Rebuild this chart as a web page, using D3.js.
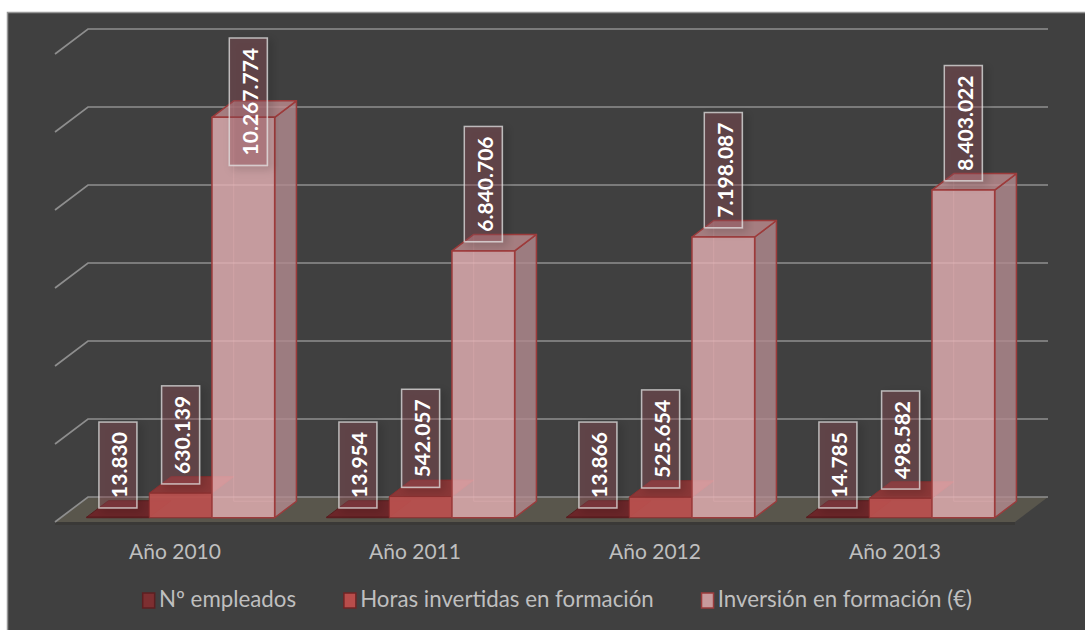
<!DOCTYPE html>
<html>
<head>
<meta charset="utf-8">
<script src="https://cdn.jsdelivr.net/npm/d3@7"></script>
<style>
  body { margin: 0; background: #fff; }
  svg { display: block; }
  text { font-family: Lato, "Open Sans", sans-serif; }
</style>
</head>
<body>
<div id="chart"></div>
<script>
//data
const categories = ["Año 2010", "Año 2011", "Año 2012", "Año 2013"];
const seriesNames = ["Nº empleados", "Horas invertidas en formación", "Inversión en formación (€)"];
const empleados = [13830, 13954, 13866, 14785];
const horas = [630139, 542057, 525654, 498582];
const inversion = [10267774, 6840706, 7198087, 8403022];
const yTicks = [0, 2000000, 4000000, 6000000, 8000000, 10000000, 12000000];

const seriesValues = [empleados, horas, inversion];

const width = 1085;
const height = 630;

// 3d look: depth offset of the floor and where the bars sit inside it
const depthX = 33, depthY = 25;
const floorFront = 522;
const zFront = 0.17, zBack = 0.83;
const labelTop = 38;

const styles = [
  { front: "#7a2c2e", side: "#5c2123", top: "#6c2629", stroke: "#5a1e20", opacity: 1, legendFill: "#7d2f31", legendStroke: "#5c1f21" },
  { front: "#b9504e", side: "#7e2f2f", top: "#8e3737", stroke: "#8a2f2f", opacity: 0.95, legendFill: "#b84d4b", legendStroke: "#6e2525" },
  { front: "#e6b2b5", side: "#b38b90", top: "#be8c90", stroke: "#9c3b3b", opacity: 0.8, legendFill: "#c89a9c", legendStroke: "#9b3b3b" }
];

const es = d3.formatLocale({ decimal: ",", thousands: ".", grouping: [3], currency: ["", "€"] });
const fmt = es.format(",d");

const svg = d3.select("#chart")
  .append("svg")
  .attr("width", width)
  .attr("height", height);

// background + border
svg.append("rect")
  .attr("x", 7.5).attr("y", 12.5)
  .attr("width", width).attr("height", height)
  .attr("fill", "#404040")
  .attr("stroke", "#979797")
  .attr("stroke-width", 1.5);

const x = d3.scaleBand()
  .domain(categories)
  .range([55, 1015]);

const xs = d3.scaleBand()
  .domain(seriesNames)
  .range([0, x.bandwidth()])
  .paddingOuter(0.414);

const y = d3.scaleLinear()
  .domain([0, 12000000])
  .range([0, 468]);

// project (floor x, value, depth) to the screen
var P = (X, v, z) => [X + z * depthX, floorFront - z * depthY - y(v)];
var poly = pts => pts.map(p => p.join(",")).join(" ");

const defs = svg.append("defs");
defs.append("filter")
  .attr("id", "shadow")
  .attr("x", "-30%").attr("y", "-10%").attr("width", "160%").attr("height", "130%")
  .append("feDropShadow")
  .attr("dx", 4).attr("dy", 3).attr("stdDeviation", 4)
  .attr("flood-color", "#000").attr("flood-opacity", 0.35);

// floor
const x0 = x.range()[0], x1 = x.range()[1];
svg.append("polygon")
  .attr("points", poly([P(x0, 0, 0), [P(x0, 0, 0)[0], floorFront + 3], [P(x1, 0, 0)[0], floorFront + 3], P(x1, 0, 0)]))
  .attr("fill", "#3a3937");
svg.append("polygon")
  .attr("points", poly([P(x0, 0, 0), P(x1, 0, 0), P(x1, 0, 1), P(x0, 0, 1)]))
  .attr("fill", "#59564c");

// gridlines: side wall + back wall
svg.append("g")
  .selectAll("polyline")
  .data(yTicks)
  .join("polyline")
  .attr("points", t => poly([P(x0, t, 0), P(x0, t, 1), P(x1, t, 1)]))
  .attr("fill", "none")
  .attr("stroke", "#8e8e8e")
  .attr("stroke-width", 1.7);

// bars
var bars = [];
categories.forEach((c, i) => {
  seriesNames.forEach((s, k) => {
    bars.push({ cat: c, series: s, k: k, value: seriesValues[k][i] });
  });
});

const barG = svg.append("g");
bars.forEach(d => {
  const st = styles[d.k];
  const X0 = x(d.cat) + xs(d.series);
  const X1 = X0 + xs.bandwidth();
  const v = d.value;
  const g = barG.append("g")
    .attr("stroke", st.stroke)
    .attr("stroke-width", d.k == 2 ? 1.5 : 1)
    .attr("stroke-linejoin", "round");

  // hidden back edges show through the see-through bars
  if (d.k == 2) {
    g.append("polyline")
      .attr("points", poly([P(X0, v, zBack), P(X0, 0, zBack), P(X1, 0, zBack)]))
      .attr("fill", "none")
      .attr("stroke", "rgba(235,185,188,0.35)")
      .attr("stroke-width", 1);
  }
  // side face of the small bars is mostly hidden by the next bar
  if (d.k == 2) {
    g.append("polygon")
      .attr("points", poly([P(X1, 0, zFront), P(X1, 0, zBack), P(X1, v, zBack), P(X1, v, zFront)]))
      .attr("fill", st.side).attr("fill-opacity", st.opacity);
  }
  g.append("polygon")
    .attr("points", poly([P(X0, v, zFront), P(X1, v, zFront), P(X1, v, zBack), P(X0, v, zBack)]))
    .attr("fill", st.top).attr("fill-opacity", st.opacity);
  g.append("polygon")
    .attr("points", poly([P(X0, 0, zFront), P(X1, 0, zFront), P(X1, v, zFront), P(X0, v, zFront)]))
    .attr("fill", st.front).attr("fill-opacity", st.opacity);
});

// data labels (rotated, boxed)
const labelG = svg.append("g");
bars.forEach(d => {
  const X0 = x(d.cat) + xs(d.series);
  const cx = X0 + xs.bandwidth() / 2 + zFront * depthX;
  const g = labelG.append("g");
  const box = g.append("rect")
    .attr("fill", "rgba(150,80,90,0.35)")
    .attr("stroke", "rgba(225,225,225,0.75)")
    .attr("stroke-width", 1.5)
    .attr("filter", "url(#shadow)");
  const txt = g.append("text")
    .attr("text-anchor", "middle")
    .attr("dominant-baseline", "central")
    .attr("fill", "#fff")
    .attr("font-weight", "bold")
    .attr("font-size", "21px")
    .text(fmt(d.value));
  const len = txt.node().getComputedTextLength();
  const boxH = len + 20, boxW = 38;
  var bottom = P(X0, d.value, 0.5)[1] - 1;
  var top = bottom - boxH;
  var shift = 0;
  if (top < labelTop) { top = labelTop; bottom = top + boxH; shift = 5; }
  box.attr("x", cx + shift - boxW / 2).attr("y", top).attr("width", boxW).attr("height", boxH);
  txt.attr("transform", `translate(${cx + shift + 1},${top + boxH / 2}) rotate(-90)`);
});

// category axis
svg.append("g")
  .selectAll("text")
  .data(categories)
  .join("text")
  .attr("x", d => x(d) + x.bandwidth() / 2)
  .attr("y", 559)
  .attr("text-anchor", "middle")
  .attr("fill", "#bfbfbf")
  .attr("font-size", "21px")
  .text(d => d);

// legend
const legend = svg.append("g");
var lx = 0;
seriesNames.forEach((s, k) => {
  const item = legend.append("g").attr("transform", `translate(${lx},0)`);
  item.append("rect")
    .attr("x", 0.75).attr("y", -14)
    .attr("width", 12).attr("height", 15)
    .attr("fill", styles[k].legendFill)
    .attr("stroke", styles[k].legendStroke)
    .attr("stroke-width", 1.5);
  const t = item.append("text")
    .attr("x", 17)
    .attr("y", 0)
    .attr("fill", "#bfbfbf")
    .attr("font-size", "22.3px")
    .text(s);
  lx += 17 + t.node().getComputedTextLength() + 47;
});
const legendW = lx - 47;
legend.attr("transform", `translate(${557 - legendW / 2},607)`);
</script>
</body>
</html>
